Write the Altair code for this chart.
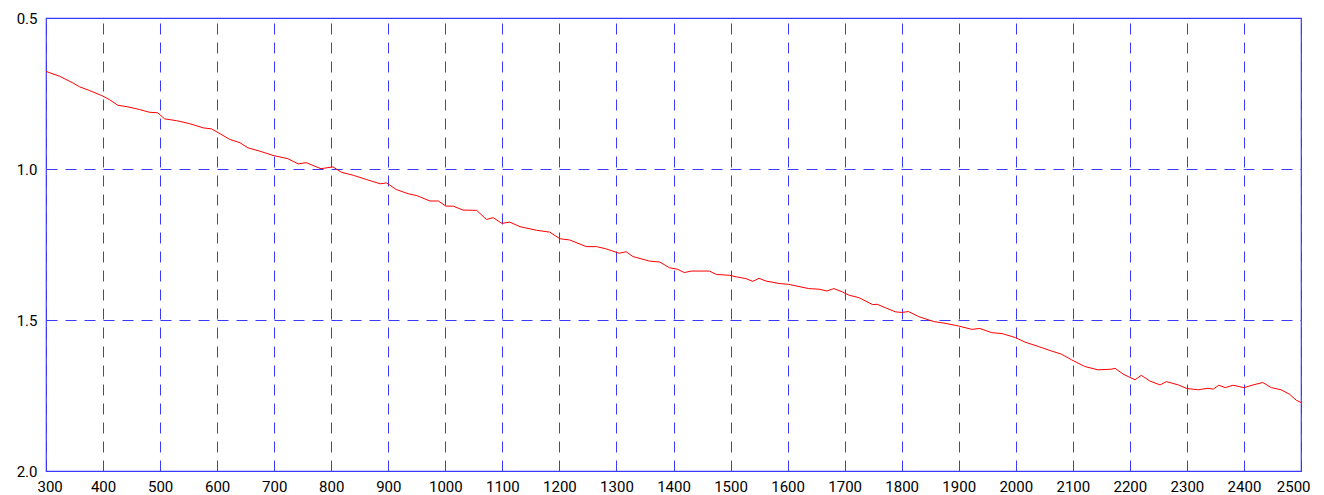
import altair as alt
import pandas as pd

wavelength = [300, 324, 347, 359, 376, 398, 411, 426, 443, 464, 481, 496, 508, 529, 552, 576, 590, 605,
              622, 640, 654, 675, 698, 724, 742, 756, 782, 803, 818, 839, 862, 886, 897, 914, 935, 950,
              973, 988, 1001, 1014, 1031, 1055, 1072, 1084, 1099, 1113, 1131, 1160, 1183, 1201, 1218,
              1247, 1265, 1281, 1305, 1317, 1329, 1358, 1376, 1393, 1407, 1419, 1431, 1463, 1475, 1498,
              1510, 1527, 1539, 1550, 1562, 1585, 1602, 1637, 1655, 1669, 1681, 1696, 1708, 1725, 1749,
              1757, 1771, 1789, 1800, 1812, 1830, 1856, 1876, 1900, 1923, 1937, 1958, 1976, 1999, 2016,
              2040, 2063, 2080, 2098, 2121, 2144, 2167, 2174, 2189, 2209, 2220, 2235, 2253, 2264, 2285,
              2300, 2320, 2337, 2346, 2356, 2367, 2381, 2400, 2416, 2433, 2448, 2465, 2480, 2492, 2500]
value = [0.677, 0.693, 0.715, 0.728, 0.740, 0.757, 0.770, 0.789, 0.794, 0.803, 0.812, 0.814, 0.834,
         0.840, 0.850, 0.864, 0.867, 0.883, 0.902, 0.913, 0.930, 0.941, 0.955, 0.966, 0.983, 0.979,
         0.999, 0.993, 1.011, 1.021, 1.035, 1.049, 1.046, 1.068, 1.082, 1.088, 1.106, 1.106, 1.123,
         1.123, 1.136, 1.137, 1.167, 1.161, 1.180, 1.176, 1.191, 1.203, 1.209, 1.231, 1.235, 1.257,
         1.257, 1.264, 1.279, 1.274, 1.290, 1.305, 1.308, 1.327, 1.332, 1.343, 1.338, 1.338, 1.349,
         1.352, 1.357, 1.363, 1.372, 1.362, 1.371, 1.379, 1.382, 1.396, 1.398, 1.404, 1.396, 1.407,
         1.418, 1.426, 1.449, 1.448, 1.459, 1.473, 1.475, 1.472, 1.489, 1.505, 1.511, 1.520, 1.531,
         1.528, 1.542, 1.545, 1.558, 1.573, 1.588, 1.603, 1.613, 1.632, 1.654, 1.665, 1.663, 1.660,
         1.680, 1.698, 1.683, 1.702, 1.715, 1.704, 1.715, 1.727, 1.731, 1.726, 1.729, 1.716, 1.724,
         1.716, 1.724, 1.715, 1.707, 1.724, 1.731, 1.746, 1.766, 1.773]

x_ticks = list(range(300, 2501, 100))
y_ticks = [0.5, 1.0, 1.5, 2.0]

df = pd.DataFrame({"x": wavelength, "y": value})

FONT = "Roboto, sans-serif"
BLUE = "#3a3aff"

chart = (
    alt.Chart(df)
    .mark_line(color="#ff0000", strokeWidth=1)
    .encode(
        x=alt.X(
            "x:Q",
            scale=alt.Scale(domain=[300, 2500], nice=False, zero=False),
            axis=alt.Axis(values=x_ticks, title=None, labelPadding=8, format="d",
                          labelFlush=True, labelFlushOffset=9, labelOverlap=False),
        ),
        y=alt.Y(
            "y:Q",
            scale=alt.Scale(domain=[0.5, 2.0], reverse=True, nice=False, zero=False),
            axis=alt.Axis(values=y_ticks, title=None, format=".1f", labelPadding=9,
                          labelFlush=False, labelOverlap=False),
        ),
    )
    .properties(
        width=1255,
        height=453,
        autosize=alt.AutoSizeParams(type="none"),
        padding={"left": 38, "top": 10, "right": 15, "bottom": 23},
    )
    .configure_view(stroke=BLUE, strokeWidth=1.2)
    .configure_axis(
        domain=False,
        ticks=False,
        grid=True,
        gridColor=BLUE,
        gridDash=[11, 8],
        gridWidth=1,
        gridOpacity=1,
        labelFont=FONT,
        labelFontSize=15,
        labelColor="#000000",
    )
)

chart.save("out.html", embed_options={"renderer": "svg", "actions": False})
